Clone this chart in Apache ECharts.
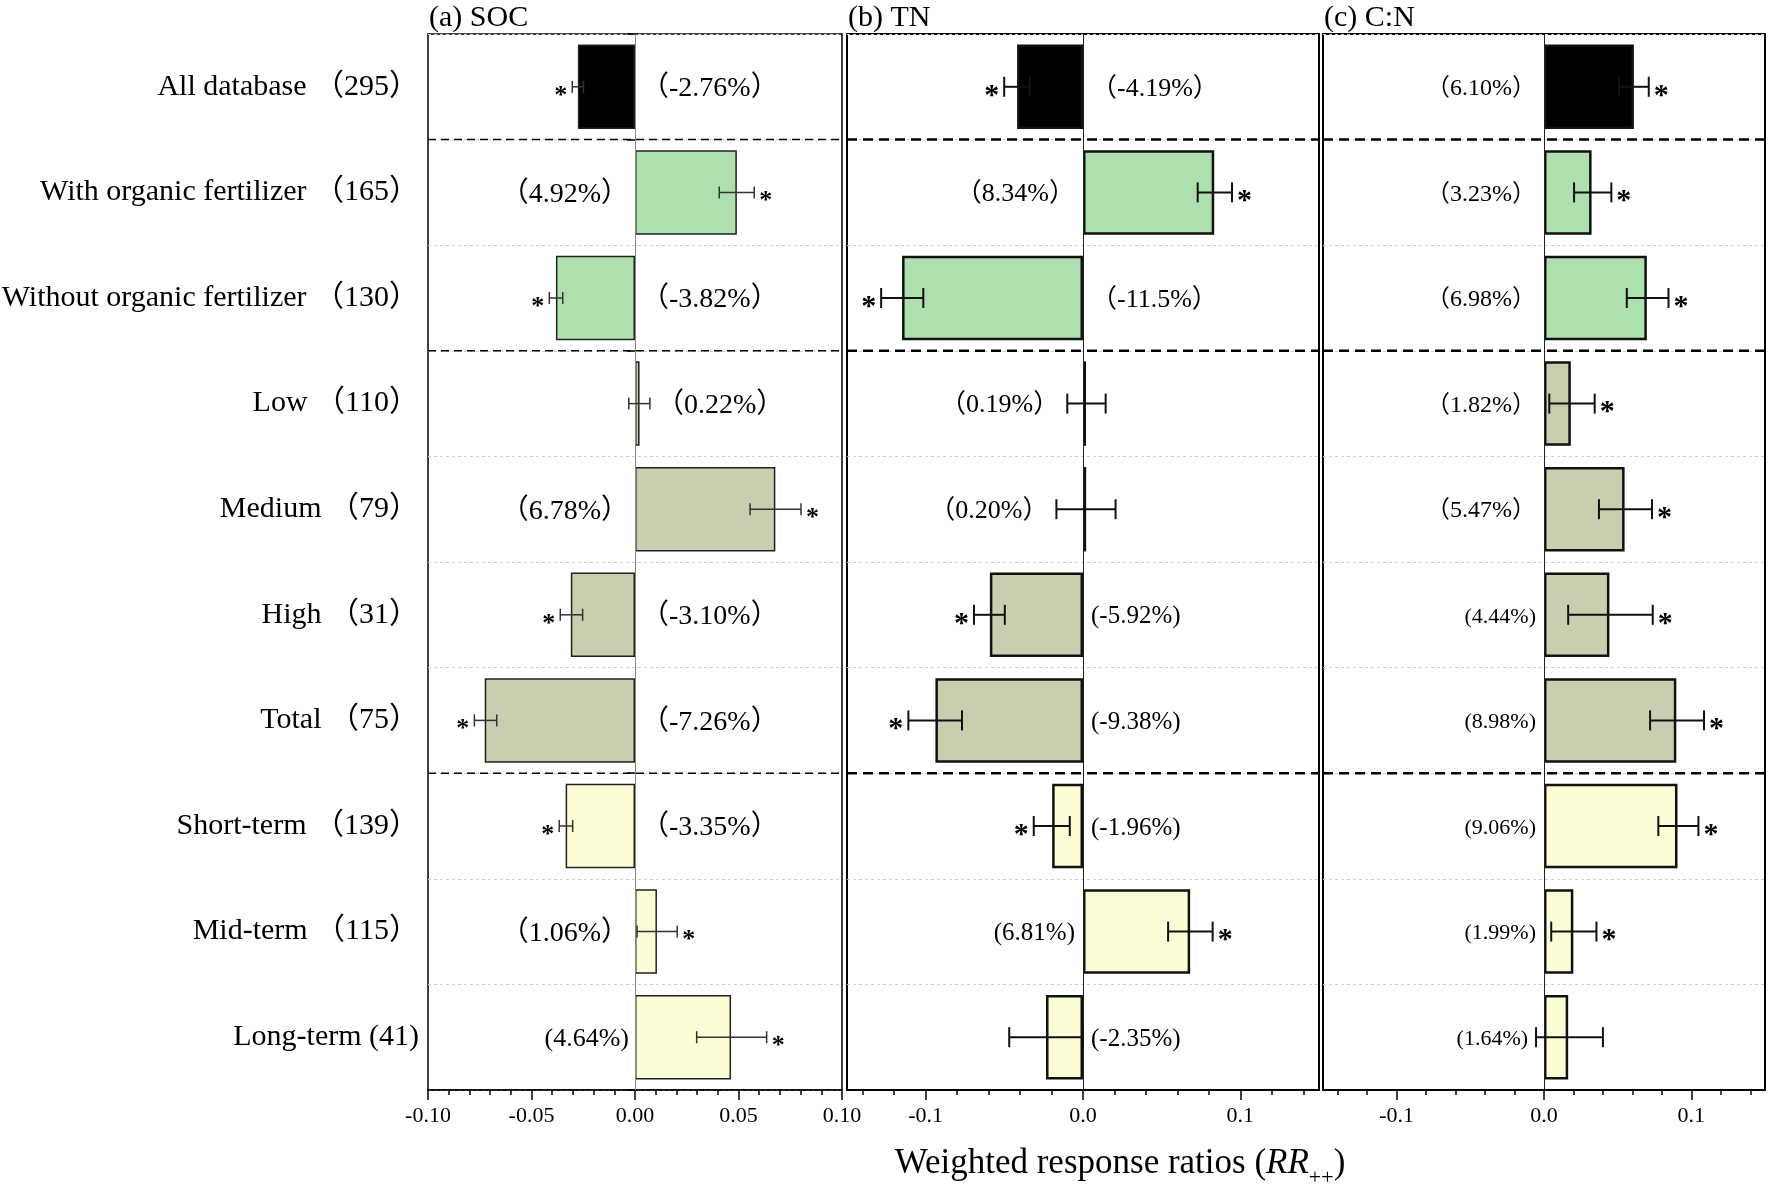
<!DOCTYPE html>
<html><head><meta charset="utf-8">
<script src="https://cdn.jsdelivr.net/npm/echarts@6/dist/echarts.min.js"></script>
<style>html,body{margin:0;padding:0;background:#fff}#c{width:1770px;height:1187px}</style>
</head><body><div id="c"></div>
<script>
// ---------------- data ----------------
const categories = ['All database （295）', 'With organic fertilizer （165）', 'Without organic fertilizer （130）',
  'Low （110）', 'Medium （79）', 'High （31）', 'Total （75）', 'Short-term （139）', 'Mid-term （115）', 'Long-term (41)'];

const socMean = [-0.0276, 0.0492, -0.0382, 0.0022, 0.0678, -0.0310, -0.0726, -0.0335, 0.0106, 0.0464];
const socLow  = [-0.0303, 0.0407, -0.0414, -0.0030, 0.0556, -0.0361, -0.0776, -0.0366, 0.0010, 0.0298];
const socHigh = [-0.0249, 0.0576, -0.0349, 0.0072, 0.0802, -0.0253, -0.0668, -0.0301, 0.0204, 0.0636];
const socSig  = [1, 1, 1, 0, 1, 1, 1, 1, 1, 1];
const socLabels = ['（-2.76%）', '（4.92%）', '（-3.82%）', '（0.22%）', '（6.78%）', '（-3.10%）', '（-7.26%）', '（-3.35%）', '（1.06%）', '(4.64%)'];

const tnMean = [-0.0419, 0.0834, -0.1150, 0.0019, 0.0020, -0.0592, -0.0938, -0.0196, 0.0681, -0.0235];
const tnLow  = [-0.0501, 0.0729, -0.1283, -0.0100, -0.0169, -0.0693, -0.1110, -0.0313, 0.0541, -0.0469];
const tnHigh = [-0.0337, 0.0947, -0.1015, 0.0144, 0.0207, -0.0497, -0.0769, -0.0084, 0.0824, -0.0002];
const tnSig  = [1, 1, 1, 0, 0, 1, 1, 1, 1, 0];
const tnLabels = ['（-4.19%）', '（8.34%）', '（-11.5%）', '（0.19%）', '（0.20%）', '(-5.92%)', '(-9.38%)', '(-1.96%)', '(6.81%)', '(-2.35%)'];

const cnMean = [0.0610, 0.0323, 0.0698, 0.0182, 0.0547, 0.0444, 0.0898, 0.0906, 0.0199, 0.0164];
const cnLow  = [0.0509, 0.0204, 0.0562, 0.0036, 0.0373, 0.0164, 0.0720, 0.0776, 0.0049, -0.0054];
const cnHigh = [0.0711, 0.0457, 0.0845, 0.0344, 0.0733, 0.0738, 0.1086, 0.1048, 0.0356, 0.0400];
const cnSig  = [1, 1, 1, 1, 1, 1, 1, 1, 1, 0];
const cnLabels = ['（6.10%）', '（3.23%）', '（6.98%）', '（1.82%）', '（5.47%）', '(4.44%)', '(8.98%)', '(9.06%)', '(1.99%)', '(1.64%)'];

const socTicks = [-0.10, -0.05, 0, 0.05, 0.10];
const tnTicks = [-0.1, 0, 0.1];
const cnTicks = [-0.1, 0, 0.1];
const groupStarts = [1, 3, 7];

// ---------------- style ----------------
const FONT = "'Liberation Serif', 'Times New Roman', 'Noto Sans CJK SC', serif";
const rowColors = ['#000000', '#AEDFAE', '#AEDFAE', '#C8CEAF', '#C8CEAF', '#C8CEAF', '#C8CEAF', '#FCFDD5', '#FCFDD5', '#FCFDD5'];
const socSide = ['R', 'L', 'R', 'R', 'L', 'R', 'R', 'R', 'L', 'L'];
const tnSide  = ['R', 'L', 'R', 'L', 'L', 'R', 'R', 'R', 'L', 'R'];
const cnSide  = ['L', 'L', 'L', 'L', 'L', 'L', 'L', 'L', 'L', 'L'];

const TOP = 34, HEIGHT = 1056;
const panels = [
  {title: '(a) SOC', left: 428, right: 842, min: -0.1, max: 0.1, major: socTicks, minorStep: 0.01, minorN: 9, dec: 2,
   mean: socMean, low: socLow, high: socHigh, sig: socSig, labels: socLabels, side: socSide,
   border: 1.5, barBorder: 1.5, barBorderColor: '#222', errW: 1.5, errColor: '#333', capH: 12, zeroColor: '#888',
   fullSize: 28, halfSize: 26, starSize: 26, dashW: 1.5, dash: [8, 5], gap: 6},
  {title: '(b) TN', left: 847, right: 1319, min: -0.15, max: 0.15, major: tnTicks, minorStep: 0.02, minorN: 7, dec: 1,
   mean: tnMean, low: tnLow, high: tnHigh, sig: tnSig, labels: tnLabels, side: tnSide,
   border: 2, barBorder: 2.5, barBorderColor: '#111', errW: 2, errColor: '#111', capH: 20, zeroColor: '#222',
   fullSize: 26, halfSize: 25, starSize: 30, dashW: 2.5, dash: [10, 6], gap: 8},
  {title: '(c) C:N', left: 1323, right: 1765, min: -0.15, max: 0.15, major: cnTicks, minorStep: 0.02, minorN: 7, dec: 1,
   mean: cnMean, low: cnLow, high: cnHigh, sig: cnSig, labels: cnLabels, side: cnSide,
   border: 2, barBorder: 2.5, barBorderColor: '#111', errW: 2, errColor: '#111', capH: 20, zeroColor: '#222',
   fullSize: 24, halfSize: 22, starSize: 30, dashW: 2.5, dash: [10, 6], gap: 8}
];

const grid = [], xAxis = [], yAxis = [], series = [], graphic = [];
panels.forEach((p, i) => {
  grid.push({left: p.left, width: p.right - p.left, top: TOP, height: HEIGHT, show: true,
    borderColor: '#000', borderWidth: p.border, backgroundColor: 'rgba(0,0,0,0)', containLabel: false, outerBoundsMode: 'none'});
  const minors = [];
  for (let k = -p.minorN; k <= p.minorN; k++) minors.push(Math.round(k * p.minorStep * 1000) / 1000);
  xAxis.push({type: 'value', gridIndex: i, min: p.min, max: p.max, position: 'bottom',
    axisLine: {show: true, onZero: false, lineStyle: {color: '#000', width: p.border}},
    axisTick: {show: true, inside: false, length: 10, customValues: p.major, lineStyle: {color: '#000', width: 1.5}},
    axisLabel: {show: true, customValues: p.major, formatter: v => Number(v).toFixed(p.dec), fontSize: 22, color: '#000', margin: 15, fontFamily: FONT},
    splitLine: {show: false}});
  xAxis.push({type: 'value', gridIndex: i, min: p.min, max: p.max, position: 'bottom',
    axisLine: {show: false, onZero: false},
    axisTick: {show: true, inside: false, length: 5, customValues: minors, lineStyle: {color: '#000', width: 1.5}},
    axisLabel: {show: false}, splitLine: {show: false}});
  yAxis.push({type: 'category', gridIndex: i, data: categories, inverse: true,
    axisLine: {show: false},
    axisTick: i === 0 ? {show: true, inside: false, length: 8, interval: (idx) => idx === 0 || groupStarts.indexOf(idx) >= 0,
      lineStyle: {color: '#000', width: 1.5}} : {show: false},
    axisLabel: i === 0 ? {show: true, fontSize: 30, color: '#000', margin: 9, fontFamily: FONT} : {show: false},
    splitLine: {show: true, lineStyle: {color: '#cfcfcf', type: [3, 3], width: 1}}});

  // bars
  series.push({type: 'bar', xAxisIndex: 2 * i, yAxisIndex: i, barWidth: '80%', z: 2,
    data: p.mean.map((v, k) => ({value: v, itemStyle: {color: rowColors[k]}})),
    itemStyle: {borderColor: p.barBorderColor, borderWidth: p.barBorder},
    markLine: {silent: true, symbol: 'none', label: {show: false}, animation: false,
      lineStyle: {color: p.zeroColor, width: 1, type: 'solid'}, emphasis: {disabled: true}, data: [{xAxis: 0}]}});

  // group separators
  series.push({type: 'custom', xAxisIndex: 2 * i, yAxisIndex: i, z: 3, silent: true,
    data: groupStarts.map(g => [0, g]), encode: {x: 0, y: 1},
    renderItem: (params, api) => {
      const c = api.coord([0, api.value(1)]);
      const h = api.size([0, 1])[1];
      const y = c[1] - h / 2;
      const cs = params.coordSys;
      return {type: 'line', shape: {x1: cs.x, y1: y, x2: cs.x + cs.width, y2: y},
        style: {stroke: '#000', lineWidth: p.dashW, lineDash: p.dash}};
    }});

  // error bars, asterisks, percent labels
  series.push({type: 'custom', xAxisIndex: 2 * i, yAxisIndex: i, z: 5, silent: true, clip: false,
    data: p.mean.map((v, k) => [v, k, p.low[k], p.high[k], p.sig[k]]), encode: {x: [0, 2, 3], y: 1},
    renderItem: (params, api) => {
      const k = params.dataIndex;
      const v = api.value(0), cat = api.value(1), lo = api.value(2), hi = api.value(3), sig = api.value(4);
      const pLo = api.coord([lo, cat]), pHi = api.coord([hi, cat]), p0 = api.coord([0, cat]);
      const y = pLo[1];
      const st = {stroke: p.errColor, lineWidth: p.errW};
      const ch = [
        {type: 'line', shape: {x1: pLo[0], y1: y, x2: pHi[0], y2: y}, style: st},
        {type: 'line', shape: {x1: pLo[0], y1: y - p.capH / 2, x2: pLo[0], y2: y + p.capH / 2}, style: st},
        {type: 'line', shape: {x1: pHi[0], y1: y - p.capH / 2, x2: pHi[0], y2: y + p.capH / 2}, style: st}
      ];
      if (sig) {
        ch.push({type: 'text', x: v < 0 ? pLo[0] - 5 : pHi[0] + 5, y: y + 9,
          style: {text: '*', fontSize: p.starSize, fontWeight: 'bold', fontFamily: FONT, fill: '#000',
            align: v < 0 ? 'right' : 'left', verticalAlign: 'middle'}});
      }
      const right = p.side[k] === 'R';
      const full = p.labels[k].indexOf('（') >= 0;
      ch.push({type: 'text', x: right ? Math.max(p0[0], pHi[0]) + p.gap : Math.min(p0[0], pLo[0]) - p.gap, y: y + 2,
        style: {text: p.labels[k], fontSize: full ? p.fullSize : p.halfSize, fontFamily: FONT, fill: '#000',
          align: right ? 'left' : 'right', verticalAlign: 'middle'}});
      return {type: 'group', children: ch};
    }});

  graphic.push({type: 'text', x: p.left + 1, y: 18, silent: true,
    style: {text: p.title, fontSize: 30, fontFamily: FONT, fill: '#000', align: 'left', verticalAlign: 'middle'}});
});

graphic.push({type: 'text', x: 1120, y: 1164, silent: true,
  style: {text: '{n|Weighted response ratios (}{i|RR}{s|++}{n|)}', fill: '#000', align: 'center', verticalAlign: 'middle',
    fontSize: 35, fontFamily: FONT,
    rich: {
      n: {fontSize: 35, fontFamily: FONT, fill: '#000'},
      i: {fontSize: 35, fontFamily: FONT, fontStyle: 'italic', fill: '#000'},
      s: {fontSize: 22, fontFamily: FONT, fill: '#000', padding: [28, 0, 0, 0]}
    }}});

const chart = echarts.init(document.getElementById('c'), null, {renderer: 'canvas', width: 1770, height: 1187});
chart.setOption({
  animation: false,
  backgroundColor: '#ffffff',
  textStyle: {fontFamily: FONT, color: '#000'},
  grid, xAxis, yAxis, series, graphic
});
</script></body></html>
